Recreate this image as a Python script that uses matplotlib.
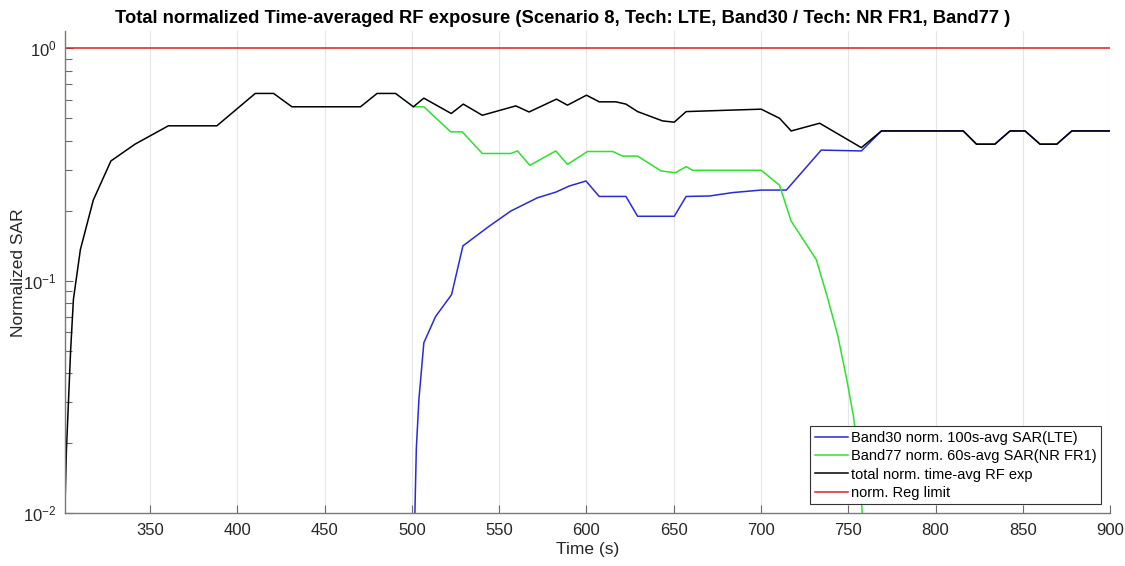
import matplotlib
matplotlib.use("Agg")
import matplotlib.pyplot as plt
from matplotlib.ticker import LogLocator, FixedLocator, NullFormatter

plt.rcParams['font.family'] = ['Liberation Sans', 'DejaVu Sans']
plt.rcParams['mathtext.default'] = 'regular'
plt.rcParams['mathtext.fontset'] = 'custom'
plt.rcParams['mathtext.rm'] = 'Liberation Sans'
plt.rcParams['axes.unicode_minus'] = False

# ---- data ----
total_t = [301, 302, 304.4, 306, 310, 317.4, 327.5, 341.3, 360.4, 388.2, 410.2, 420.7,
           431.2, 470.5, 480, 490.6, 500.8, 506.8, 522.5, 529.4, 540.3, 559.5, 567.1,
           582.8, 589.1, 600, 607.3, 616.9, 622.6, 629.3, 643.6, 650.3, 657.1, 680,
           700.1, 710.6, 717.3, 733.6, 757.5, 769, 815.9, 823.5, 834, 842.7, 851.3,
           859.9, 869.5, 878.1, 900]
total_v = [0.0095, 0.0187, 0.050, 0.083, 0.136, 0.222, 0.327, 0.386, 0.463, 0.463, 0.638,
           0.638, 0.559, 0.559, 0.638, 0.638, 0.559, 0.609, 0.523, 0.574, 0.514, 0.564,
           0.531, 0.603, 0.568, 0.627, 0.587, 0.587, 0.574, 0.533, 0.486, 0.480, 0.533,
           0.540, 0.546, 0.499, 0.440, 0.475, 0.373, 0.440, 0.440, 0.386, 0.386, 0.440,
           0.440, 0.386, 0.386, 0.440, 0.440]

band77_t = [501, 506.8, 522.2, 528.8, 540.3, 556.6, 560.4, 567.5, 582.4, 589.1, 600.6,
            615, 620.7, 629.3, 642.7, 650.9, 657.1, 660.9, 700.1, 710.6, 717.3, 731.7,
            738, 744, 749, 753, 756, 758.2]
band77_v = [0.559, 0.559, 0.436, 0.436, 0.352, 0.352, 0.361, 0.313, 0.361, 0.316, 0.359,
            0.359, 0.343, 0.343, 0.296, 0.291, 0.309, 0.298, 0.298, 0.257, 0.180, 0.123,
            0.085, 0.058, 0.038, 0.026, 0.017, 0.0095]

band30_t = [501.6, 502.5, 504, 506.8, 513.5, 522.7, 529.2, 544.1, 556.6, 571.9, 582.4,
            590.1, 599.7, 607.3, 622.6, 629.3, 650.3, 657.1, 670.4, 683.8, 700.1, 714.5,
            734.5, 757.5, 769, 815.9, 823.5, 834, 842.7, 851.3, 859.9, 869.5, 878.1, 900]
band30_v = [0.0095, 0.019, 0.031, 0.054, 0.070, 0.087, 0.141, 0.171, 0.199, 0.227, 0.240,
            0.255, 0.268, 0.230, 0.230, 0.189, 0.189, 0.230, 0.231, 0.239, 0.245, 0.245,
            0.364, 0.361, 0.440, 0.440, 0.386, 0.386, 0.440, 0.440, 0.386, 0.386, 0.440,
            0.440]

limit_t = [301, 900]
limit_v = [1.0, 1.0]

xticks = [350, 400, 450, 500, 550, 600, 650, 700, 750, 800, 850, 900]
yticks = [1e-2, 1e-1, 1e0]
ytick_labels = [r'$10^{-2}$', r'$10^{-1}$', r'$10^{0}$']

labels = ['Band30 norm. 100s-avg SAR(LTE)', 'Band77 norm. 60s-avg SAR(NR FR1)',
          'total norm. time-avg RF exp', 'norm. Reg limit']
title = 'Total normalized Time-averaged RF exposure (Scenario 8, Tech: LTE, Band30 / Tech: NR FR1, Band77 )'

# ---- figure ----
fig = plt.figure(figsize=(11.25, 5.66), dpi=100)
ax = fig.add_axes([0.0575, 0.0936, 0.9292, 0.851])

ax.plot(band30_t, band30_v, color='#2a2ad8', lw=1.1, label=labels[0])
ax.plot(band77_t, band77_v, color='#2fe02f', lw=1.1, label=labels[1])
ax.plot(total_t, total_v, color='black', lw=1.1, label=labels[2])
ax.plot(limit_t, limit_v, color='#d92020', lw=1.1, label=labels[3])

ax.set_yscale('log')
ax.set_xlim(301, 900)
ax.set_ylim(0.01, 1.18)

ax.xaxis.set_major_locator(FixedLocator(xticks))
ax.set_yticks(yticks)
ax.set_yticklabels(ytick_labels)
ax.yaxis.set_minor_locator(LogLocator(base=10, subs=range(2, 10)))
ax.yaxis.set_minor_formatter(NullFormatter())

for side in ['top', 'right']:
    ax.spines[side].set_visible(False)
for side in ['left', 'bottom']:
    ax.spines[side].set_color('#7a7a7a')
    ax.spines[side].set_linewidth(1.0)

ax.tick_params(axis='both', which='major', direction='in', length=6, width=0.8,
               color='#6a6a6a', labelsize=12, labelcolor='#262626')
ax.tick_params(axis='x', which='major', pad=7)
ax.tick_params(axis='y', which='major', pad=6)
ax.tick_params(axis='y', which='minor', direction='in', length=5, width=0.8,
               color='#6a6a6a')

ax.grid(True, axis='x', which='major', color='#e6e6e6', lw=0.8)
ax.set_axisbelow(True)

ax.set_xlabel('Time (s)', fontsize=12.5, color='#262626', labelpad=3)
ax.set_ylabel('Normalized SAR', fontsize=12.5, color='#262626')
ax.yaxis.set_label_coords(-0.037, 0.5)
fig.text(0.5, 0.968, title, ha='center', va='center', fontsize=13.2,
         fontweight='bold', color='black')

leg = ax.legend(loc='lower right', fontsize=10.5, frameon=True, fancybox=False,
                edgecolor='#333333', framealpha=1, handlelength=2.3,
                handletextpad=0.2, borderpad=0.3, labelspacing=0.3,
                borderaxespad=0.6)
leg.get_frame().set_linewidth(0.8)

fig.savefig('out.png', dpi=100)
